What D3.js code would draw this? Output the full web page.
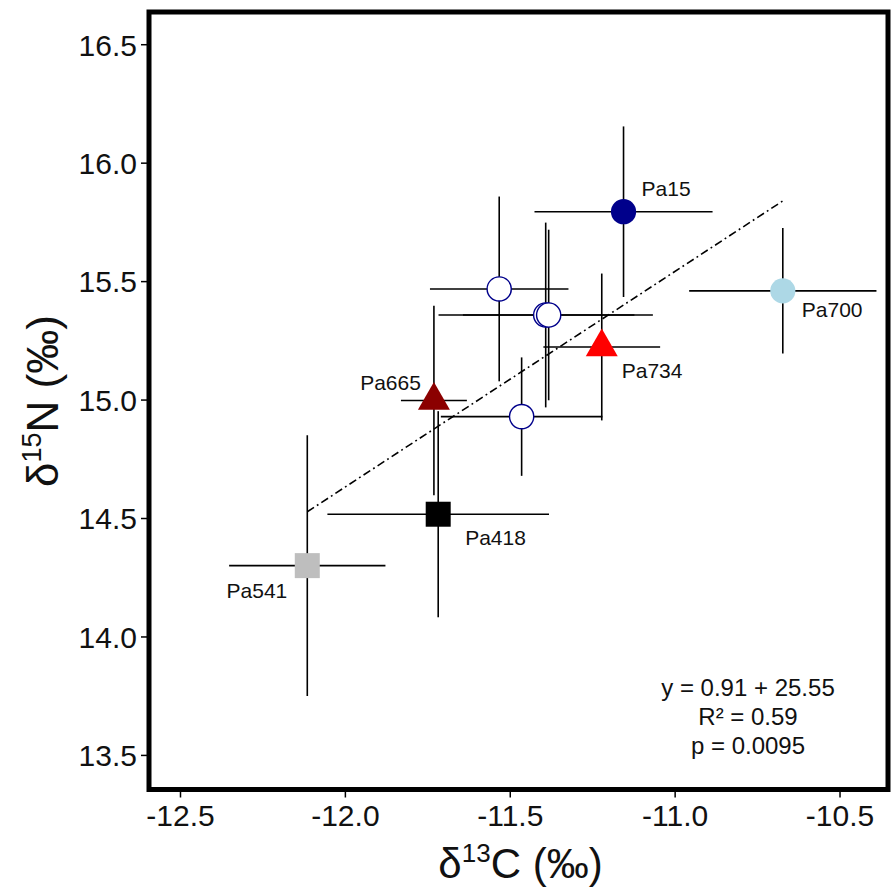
<!DOCTYPE html>
<html>
<head>
<meta charset="utf-8">
<script src="https://cdn.jsdelivr.net/npm/d3@7"></script>
<style>
  body { margin: 0; background: #fff; }
  text { font-family: "Liberation Sans", Arial, Helvetica, sans-serif; }
</style>
</head>
<body>
<div id="chart"></div>
<script>
// data
const samples = ["Pa15", "", "", "", "", "Pa734", "Pa665", "Pa418", "Pa541", "Pa700"];
const d13C = [-11.155, -11.532, -11.391, -11.382, -11.464, -11.221, -11.730, -11.717, -12.114, -10.672];
const d15N = [15.793, 15.467, 15.357, 15.357, 14.928, 15.222, 14.996, 14.516, 14.299, 15.459];
const errC = [0.27, 0.21, 0.325, 0.26, 0.245, 0.177, 0.10, 0.336, 0.237, 0.284];
const errN = [0.36, 0.39, 0.39, 0.36, 0.25, 0.31, 0.40, 0.435, 0.55, 0.265];
const xTicks = [-12.5, -12.0, -11.5, -11.0, -10.5];
const yTicks = [13.5, 14.0, 14.5, 15.0, 15.5, 16.0, 16.5];
const slope = 0.91, intercept = 25.55;
const statLines = ["y = 0.91 + 25.55", "R\u00b2 = 0.59", "p = 0.0095"];

// marker look per point (same order as samples)
const kind  = ["circle", "open", "open", "open", "open", "triangle", "triangle", "square", "square", "circle"];
const color = ["#00008b", "#00008b", "#00008b", "#00008b", "#00008b", "#ff0000", "#8b0000", "#000000", "#bebebe", "#add8e6"];
// label offsets from the marker [dx, dy, anchor]
const labelPos = {
  "Pa15": [18, -16, "start"],
  "Pa734": [20, 31, "start"],
  "Pa700": [19, 26, "start"],
  "Pa665": [-13, -11, "end"],
  "Pa418": [27, 31, "start"],
  "Pa541": [-20, 32, "end"]
};

const width = 894, height = 888;
const svg = d3.select("#chart").append("svg")
    .attr("width", width)
    .attr("height", height);

const mLeft = 149, mRight = 888, mTop = 12, mBottom = 789.5;

const x = d3.scaleLinear().domain([-12.594, -10.353]).range([mLeft, mRight]);
const y = d3.scaleLinear().domain([13.354, 16.636]).range([mBottom, mTop]);

// axes
const xAxis = svg.append("g")
    .attr("transform", "translate(0," + mBottom + ")")
    .call(d3.axisBottom(x).tickValues(xTicks).tickSize(8).tickPadding(6).tickFormat(d => d.toFixed(1)));
const yAxis = svg.append("g")
    .attr("transform", "translate(" + mLeft + ",0)")
    .call(d3.axisLeft(y).tickValues(yTicks).tickSize(8).tickPadding(4).tickFormat(d => d.toFixed(1)));
[xAxis, yAxis].forEach(a => {
  a.select(".domain").remove();
  a.selectAll(".tick line").attr("stroke", "#000").attr("stroke-width", 1.5);
  a.selectAll(".tick text").attr("font-size", 30).attr("fill", "#111")
    .style("font-family", "'Liberation Sans', Arial, Helvetica, sans-serif");
});
xAxis.selectAll(".tick text").attr("dy", "0.75em");
yAxis.selectAll(".tick text").attr("dy", "0.36em");

const pts = samples.map((s, i) => ({name: s, cx: d13C[i], cy: d15N[i], ex: errC[i], ey: errN[i], kind: kind[i], color: color[i]}));

// error bars
const bars = svg.append("g").attr("stroke", "#000").attr("stroke-width", 1.6);
bars.selectAll(".h").data(pts).join("line").attr("class", "h")
    .attr("x1", d => x(d.cx - d.ex)).attr("x2", d => x(d.cx + d.ex))
    .attr("y1", d => y(d.cy)).attr("y2", d => y(d.cy));
bars.selectAll(".v").data(pts).join("line").attr("class", "v")
    .attr("x1", d => x(d.cx)).attr("x2", d => x(d.cx))
    .attr("y1", d => y(d.cy - d.ey)).attr("y2", d => y(d.cy + d.ey));

// regression line over the data range
const xr = d3.extent(d13C);
svg.append("line")
    .attr("x1", x(xr[0])).attr("y1", y(slope * xr[0] + intercept))
    .attr("x2", x(xr[1])).attr("y2", y(slope * xr[1] + intercept))
    .attr("stroke", "#000").attr("stroke-width", 1.6)
    .attr("stroke-dasharray", "8,3.5,1.8,3.5");

// markers
const symType = {circle: d3.symbolCircle, open: d3.symbolCircle, triangle: d3.symbolTriangle, square: d3.symbolSquare};
const symSize = {circle: 500, open: 460, triangle: 443, square: 625};
svg.append("g").selectAll("path").data(pts).join("path")
    .attr("transform", d => "translate(" + x(d.cx) + "," + y(d.cy) + ")")
    .attr("d", d => d3.symbol().type(symType[d.kind]).size(symSize[d.kind])())
    .attr("fill", d => d.kind == "open" ? "#fff" : d.color)
    .attr("stroke", d => d.kind == "open" ? d.color : "none")
    .attr("stroke-width", 1.4);

// sample labels
svg.append("g").selectAll("text").data(pts.filter(d => d.name != "")).join("text")
    .attr("x", d => x(d.cx) + labelPos[d.name][0])
    .attr("y", d => y(d.cy) + labelPos[d.name][1])
    .attr("text-anchor", d => labelPos[d.name][2])
    .attr("font-size", 21)
    .attr("fill", "#111")
    .text(d => d.name);

// stats text
const stat = svg.append("text").attr("text-anchor", "middle").attr("font-size", 24).attr("fill", "#111");
statLines.forEach((t, i) => {
  stat.append("tspan").attr("x", 748).attr("y", 696 + i * 29).text(t);
});

// plot frame
svg.append("rect")
    .attr("x", mLeft).attr("y", mTop)
    .attr("width", mRight - mLeft).attr("height", mBottom - mTop)
    .attr("fill", "none").attr("stroke", "#000").attr("stroke-width", 5);

// axis titles
const xt = svg.append("text").attr("x", (mLeft + mRight) / 2 + 2).attr("y", 878)
    .attr("text-anchor", "middle").attr("font-size", 42).attr("fill", "#111");
xt.append("tspan").text("\u03b4");
xt.append("tspan").attr("font-size", 26).attr("dy", -16).text("13");
xt.append("tspan").attr("dy", 16).text("C (\u2030)");

const yt = svg.append("text").attr("transform", "translate(58,401) rotate(-90)")
    .attr("text-anchor", "middle").attr("font-size", 44).attr("fill", "#111");
yt.append("tspan").text("\u03b4");
yt.append("tspan").attr("font-size", 27).attr("dy", -17).text("15");
yt.append("tspan").attr("dy", 17).text("N (\u2030)");
</script>
</body>
</html>
